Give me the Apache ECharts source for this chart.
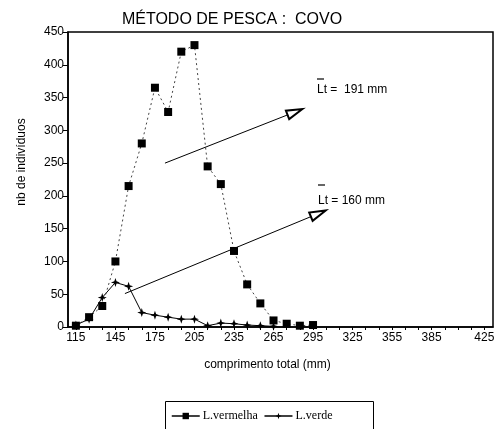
<!DOCTYPE html>
<html><head><meta charset="utf-8">
<script src="https://cdn.jsdelivr.net/npm/echarts@6/dist/echarts.min.js"></script>
<style>html,body{margin:0;padding:0;background:#fff}#c{width:498px;height:429px}</style>
</head><body><div id="c"></div>
<script>
const lengths = [115,125,135,145,155,165,175,185,195,205,215,225,235,245,255,265,275,285,295];
const vermelha = [2,15,32,100,215,280,365,328,420,430,245,218,116,65,36,10,5,2,3];
const verdeLengths = [115,125,135,145,155,165,175,185,195,205,215,225,235,245,255,265];
const verde = [3,12,45,68,62,22,18,15,12,12,2,6,5,3,2,1];
const xTickLabels = [115,145,175,205,235,265,295,325,355,385,425];
const yTickLabels = [0,50,100,150,200,250,300,350,400,450];
const arrow191 = [[182.6,250],[281.3,328]];
const arrow160 = [[152.2,51],[299,173]];

const xTicks = [];
for (let v = 115; v <= 425; v += 10) xTicks.push(v);

const starSymbol = 'path://M0,-1 L0.25,-0.25 L1,0 L0.25,0.25 L0,1 L-0.25,0.25 L-1,0 L-0.25,-0.25Z';
const chart = echarts.init(document.getElementById('c'));
const font = '"Liberation Sans", Arial, sans-serif';
chart.setOption({
  animation: false,
  title: {
    text: 'MÉTODO DE PESCA :  COVO',
    left: 227, top: 7, textAlign: 'center',
    textStyle: { fontFamily: font, fontSize: 16, fontWeight: 'normal', color: '#000' }
  },
  grid: { left: 68, right: 5, top: 32, bottom: 102, show: true, borderColor: '#000', borderWidth: 1.5 },
  xAxis: {
    type: 'value', min: 109, max: 431.6,
    axisLine: { lineStyle: { color: '#000', width: 1.5 } },
    splitLine: { show: false },
    axisTick: { customValues: xTicks, length: 3, lineStyle: { color: '#000' } },
    axisLabel: { customValues: xTickLabels, color: '#000', fontFamily: font, fontSize: 12, margin: 5 },
    name: 'comprimento total (mm)', nameLocation: 'middle', nameGap: 32,
    nameTextStyle: { color: '#000', fontFamily: font, fontSize: 12, padding: [0, 26, 0, 0] }
  },
  yAxis: {
    type: 'value', min: 0, max: 450, interval: 50,
    axisLine: { show: true, lineStyle: { color: '#000', width: 1.5 } },
    splitLine: { show: false },
    axisTick: { show: true, length: 5, lineStyle: { color: '#000' } },
    axisLabel: { color: '#000', fontFamily: font, fontSize: 12, margin: 4 }
  },
  legend: {
    left: 166, top: 405, itemGap: 6, itemWidth: 28, itemHeight: 8,
    lineStyle: { type: 'solid', color: '#000', width: 1.5 },
    textStyle: { fontFamily: '"Liberation Serif", "Times New Roman", serif', fontSize: 12, color: '#000', padding: [0, 0, 0, -2] },
    data: ['L.vermelha', 'L.verde']
  },
  graphic: [
    { type: 'rect', left: 163, top: 399, shape: { width: 208, height: 40 }, style: { fill: 'none', stroke: '#000', lineWidth: 1 } },
    { type: 'text', x: 22, y: 162, rotation: Math.PI / 2, style: { text: 'nb de indivíduos', font: '12px ' + font, fill: '#000', align: 'center', verticalAlign: 'middle' } },
    { type: 'text', left: 317, top: 84, style: { text: 'Lt =  191 mm', font: '12px ' + font, fill: '#000' } },
    { type: 'line', shape: { x1: 317, y1: 79, x2: 324, y2: 79 }, style: { stroke: '#000', lineWidth: 1.2 } },
    { type: 'text', left: 318, top: 195, style: { text: 'Lt = 160 mm', font: '12px ' + font, fill: '#000' } },
    { type: 'line', shape: { x1: 318, y1: 185, x2: 325, y2: 185 }, style: { stroke: '#000', lineWidth: 1.2 } }
  ],
  series: [
    {
      name: 'L.vermelha', type: 'line',
      data: lengths.map((x, i) => [x, vermelha[i]]),
      symbol: 'rect', symbolSize: 8,
      itemStyle: { color: '#000' },
      lineStyle: { color: '#444', width: 1, type: [2, 3] },
      markLine: {
        silent: true, symbol: ['none', 'emptyTriangle'], symbolSize: [9, 16],
        lineStyle: { color: '#000', width: 1, type: 'solid' }, label: { show: false },
        data: [
          [{ coord: arrow191[0] }, { coord: arrow191[1] }],
          [{ coord: arrow160[0] }, { coord: arrow160[1] }]
        ]
      },
      z: 3
    },
    {
      name: 'L.verde', type: 'line',
      data: verdeLengths.map((x, i) => [x, verde[i]]),
      symbol: starSymbol, symbolSize: 9,
      itemStyle: { color: '#000' },
      lineStyle: { color: '#000', width: 1 },
      z: 2
    }
  ]
});
</script></body></html>
